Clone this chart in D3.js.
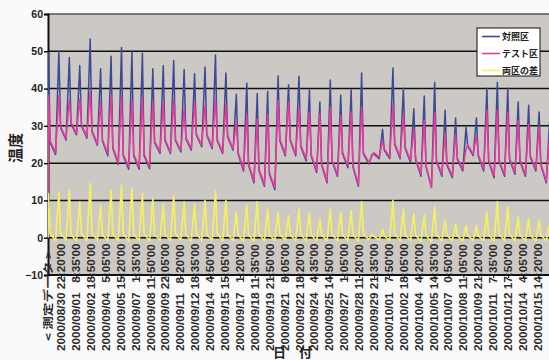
<!DOCTYPE html>
<html>
<head>
<meta charset="utf-8">
<script src="https://cdn.jsdelivr.net/npm/d3@7"></script>
<style>
  body { margin: 0; background: #fafafa; }
  svg { display: block; }
</style>
</head>
<body>
<div id="chart"></div>
<script>
// daily readings, day 0 = 2000/08/29 (dawn ~08:30, peak ~16:00, dusk ~20:00)
const bluePeak = [49.6, 50.1, 48.3, 46.2, 53.3, 45.3, 48.7, 51.0, 49.8, 49.5,
                  45.3, 46.2, 47.5, 45.1, 44.0, 45.8, 49.0, 44.2, 38.5, 41.4,
                  38.7, 39.2, 43.4, 41.0, 43.3, 39.6, 36.4, 42.3, 38.3, 39.6,
                  44.2, 22.3, 29.1, 45.5, 40.1, 34.6, 38.0, 41.7, 34.2, 32.1,
                  29.6, 32.1, 40.1, 41.6, 40.1, 36.4, 35.5, 33.7, 31.0];
const blueDawn = [0, 22.3, 26.2, 27.6, 26.7, 24.8, 22.0, 19.7, 18.4, 18.4,
                  18.5, 22.6, 22.6, 23.0, 23.5, 24.4, 23.9, 22.6, 23.5, 17.9,
                  14.7, 13.8, 12.9, 22.0, 22.0, 20.6, 17.5, 14.7, 16.5, 18.8,
                  13.8, 19.8, 21.2, 21.2, 21.2, 20.2, 16.5, 13.5, 16.5, 16.1,
                  17.9, 22.0, 17.9, 16.1, 16.5, 17.0, 16.5, 17.9, 14.7];
const blueDusk = [25.5, 29.5, 30.5, 30.0, 28.5, 26.0, 24.0, 22.0, 22.0, 22.0,
                  25.5, 26.0, 26.0, 26.5, 27.5, 27.5, 26.0, 27.0, 22.5, 19.5,
                  18.0, 17.0, 26.0, 26.0, 24.5, 22.0, 19.5, 20.5, 22.5, 19.0,
                  22.5, 22.5, 23.5, 25.0, 24.0, 21.0, 19.0, 20.5, 19.5, 21.0,
                  24.5, 22.0, 20.5, 20.5, 21.0, 20.5, 21.5, 19.5, 18.5];

const pinkPeak = [38.3, 38.0, 36.9, 37.3, 39.2, 36.4, 38.3, 37.8, 36.9, 37.8,
                  36.4, 36.4, 37.0, 34.6, 36.4, 35.5, 37.3, 35.5, 31.0, 33.2,
                  31.9, 33.2, 36.9, 36.4, 35.0, 33.7, 33.2, 35.0, 32.8, 33.7,
                  35.0, 21.9, 26.0, 35.5, 32.8, 29.1, 31.5, 33.7, 27.8, 27.8,
                  23.7, 27.3, 34.2, 34.2, 33.7, 31.4, 30.5, 29.6, 27.0];
const pinkDawn = [0, 22.8, 26.6, 28.0, 27.1, 25.2, 22.5, 20.2, 19.0, 19.0,
                  19.0, 23.0, 23.0, 23.4, 23.9, 24.8, 24.3, 23.0, 23.9, 18.4,
                  15.3, 14.3, 13.5, 22.5, 22.4, 21.1, 18.0, 15.2, 17.0, 19.3,
                  14.3, 20.2, 21.6, 21.6, 21.6, 20.7, 17.0, 13.7, 17.0, 16.6,
                  18.4, 22.4, 18.4, 16.6, 17.0, 17.5, 17.0, 18.4, 15.2];
const pinkDusk = [25.9, 29.9, 30.9, 30.4, 28.9, 26.4, 24.4, 22.4, 22.4, 22.4,
                  25.9, 26.4, 26.4, 26.9, 27.9, 27.9, 26.4, 27.4, 22.9, 19.9,
                  18.4, 17.4, 26.4, 26.4, 24.9, 22.4, 19.9, 20.9, 22.9, 19.4,
                  22.9, 22.8, 23.9, 25.4, 24.4, 21.4, 19.4, 20.9, 19.9, 21.4,
                  24.9, 22.4, 20.9, 20.9, 21.4, 20.9, 21.9, 19.9, 18.9];

const diffPeak = [11.8, 12.3, 12.8, 9.6, 14.6, 8.7, 12.8, 14.1, 13.2, 11.8,
                  10.5, 9.1, 11.4, 9.6, 9.1, 10.0, 12.5, 10.0, 6.8, 8.8,
                  9.6, 7.7, 6.8, 5.9, 7.7, 6.8, 5.0, 7.7, 6.8, 7.3,
                  9.6, 0.9, 2.3, 10.0, 7.7, 6.4, 6.1, 8.2, 4.6, 3.6,
                  3.2, 3.2, 6.8, 9.7, 8.2, 5.5, 5.0, 4.6, 3.6];
const diffDawn = [0, -0.7, -0.6, -0.8, -0.7, -0.6, -0.8, -0.7, -0.9, -0.7,
                  -0.8, -0.6, -0.7, -0.6, -0.8, -0.7, -0.6, -0.8, -0.7, -0.8,
                  -0.9, -0.8, -0.7, -0.6, -0.7, -0.8, -0.9, -0.7, -0.8, -0.7,
                  -0.9, -0.5, -0.6, -0.7, -0.8, -0.7, -0.9, -1.1, -0.8, -0.7,
                  -0.8, -0.6, -0.7, -0.8, -0.7, -0.8, -0.7, -0.8, -0.7];
const diffDusk = [1.0, 1.2, 0.8, 1.0, 1.2, 0.8, 1.0, 1.1, 0.9, 1.0,
                  0.8, 1.0, 1.1, 0.9, 1.0, 0.8, 1.2, 0.9, 0.7, 0.8,
                  1.0, 0.8, 0.9, 0.7, 0.9, 0.8, 0.7, 0.9, 0.8, 0.9,
                  1.0, 0.4, 0.5, 1.0, 0.8, 0.7, 0.6, 0.8, 0.6, 0.5,
                  0.5, 0.5, 0.8, 1.0, 0.9, 0.7, 0.6, 0.6, 0.5];

const tickLabels = ["2000/08/30 22:20'00", "2000/09/01 8:35'00", "2000/09/02 18:50'00",
  "2000/09/04 5:05'00", "2000/09/05 15:20'00", "2000/09/07 1:35'00", "2000/09/08 11:50'00",
  "2000/09/09 22:05'00", "2000/09/11 8:20'00", "2000/09/12 18:35'00", "2000/09/14 4:50'00",
  "2000/09/15 15:05'00", "2000/09/17 1:20'00", "2000/09/18 11:35'00", "2000/09/19 21:50'00",
  "2000/09/21 8:05'00", "2000/09/22 18:20'00", "2000/09/24 4:35'00", "2000/09/25 14:50'00",
  "2000/09/27 1:05'00", "2000/09/28 11:20'00", "2000/09/29 21:35'00", "2000/10/01 7:50'00",
  "2000/10/02 18:05'00", "2000/10/04 4:20'00", "2000/10/05 14:35'00", "2000/10/07 0:50'00",
  "2000/10/08 11:05'00", "2000/10/09 21:20'00", "2000/10/11 7:35'00", "2000/10/12 17:50'00",
  "2000/10/14 4:05'00", "2000/10/15 14:20'00"];
const yTicks = [-10, 0, 10, 20, 30, 40, 50, 60];

const seriesNames = ["対照区", "テスト区", "両区の差"];
const seriesColors = ["#3d4896", "#ec3a9c", "#f4ef62"];

const W = 549, H = 360;
const plotL = 48, plotR = 549, plotT = 14, plotB = 275;

const t0 = new Date(2000, 7, 29, 15, 0);
const t1 = new Date(2000, 9, 16, 14, 45);
const day0 = new Date(2000, 7, 29);

const x = d3.scaleTime().domain([t0, t1]).range([plotL, plotR]);
const y = d3.scaleLinear().domain([-10, 60]).range([plotB, plotT]);

const svg = d3.select("#chart").append("svg")
    .attr("width", W)
    .attr("height", H);

svg.append("defs").append("clipPath")
    .attr("id", "plotclip")
    .append("rect")
    .attr("x", plotL).attr("y", plotT)
    .attr("width", plotR - plotL).attr("height", plotB - plotT);

// plot background
svg.append("rect")
    .attr("x", plotL).attr("y", plotT)
    .attr("width", plotR - plotL).attr("height", plotB - plotT)
    .attr("fill", "#ccc9c4");

// gridlines
svg.append("g").selectAll("line")
    .data(yTicks.filter(d => d > -10))
    .join("line")
    .attr("x1", plotL).attr("x2", plotR)
    .attr("y1", d => y(d)).attr("y2", d => y(d))
    .attr("stroke", "#111")
    .attr("stroke-width", d => d === 60 ? 1.2 : 1.5);

// y axis
const yAxis = svg.append("g")
    .attr("transform", `translate(${plotL},0)`)
    .call(d3.axisLeft(y).tickValues(yTicks).tickSize(4).tickFormat(d3.format("d")));
yAxis.select(".domain").attr("stroke", "#111").attr("stroke-width", 2);
yAxis.selectAll(".tick line").attr("stroke", "#111").attr("stroke-width", 1.5);
yAxis.selectAll(".tick text")
    .attr("x", -5)
    .attr("font-family", "'Liberation Sans', Arial, sans-serif")
    .attr("font-size", 10.5)
    .attr("font-weight", "bold")
    .attr("fill", "#222");

// bottom axis line
svg.append("line")
    .attr("x1", plotL).attr("x2", plotR)
    .attr("y1", plotB).attr("y2", plotB)
    .attr("stroke", "#111").attr("stroke-width", 2);

// build daily series
function buildSeries(dawn, peak, dusk) {
    const pts = [];
    dawn.forEach((v, i) => {
        const day = d3.timeDay.offset(day0, i);
        const tDawn = d3.timeMinute.offset(day, 8 * 60 + 30);
        pts.push({ t: tDawn < t0 ? t0 : tDawn, v: dawn[i] });
        pts.push({ t: d3.timeHour.offset(day, 16), v: peak[i] });
        pts.push({ t: d3.timeHour.offset(day, 20), v: dusk[i] });
    });
    return pts;
}

const series = [
    buildSeries(blueDawn, bluePeak, blueDusk),
    buildSeries(pinkDawn, pinkPeak, pinkDusk),
    buildSeries(diffDawn, diffPeak, diffDusk)
];

const line = d3.line()
    .x(d => x(d.t))
    .y(d => y(d.v));

svg.append("g")
    .attr("clip-path", "url(#plotclip)")
    .selectAll("path")
    .data(series)
    .join("path")
    .attr("d", line)
    .attr("fill", "none")
    .attr("stroke", (d, i) => seriesColors[i])
    .attr("stroke-width", (d, i) => i === 2 ? 1.7 : 1.5)
    .attr("stroke-linejoin", "round");

// x tick labels (rotated, overlapping the lower band of the plot)
const parseTick = d3.timeParse("%Y/%m/%d %H:%M'%S");
const xTicks = tickLabels.map(s => ({ t: parseTick(s), s: s }));

svg.append("g").selectAll("line")
    .data(xTicks)
    .join("line")
    .attr("x1", d => x(d.t)).attr("x2", d => x(d.t))
    .attr("y1", plotB).attr("y2", plotB + 3)
    .attr("stroke", "#111");

svg.append("g").selectAll("text")
    .data(xTicks)
    .join("text")
    .attr("transform", d => `translate(${x(d.t)},351) rotate(-90) scale(1.17,1)`)
    .attr("dy", "0.35em")
    .attr("font-family", "'Liberation Sans', Arial, sans-serif")
    .attr("font-size", 10)
    .attr("font-weight", "bold")
    .attr("fill", "#2a2a2a")
    .text(d => {
        const parts = d.s.split(" ");
        const hh = parts[1].split(":")[0];
        return parts[0] + " " + (hh.length < 2 ? "\u2007" : "") + parts[1];
    });

svg.append("text")
    .attr("transform", "translate(48,341) rotate(-90) scale(1.3,1)")
    .attr("dy", "0.35em")
    .attr("font-family", "'Noto Sans CJK JP', sans-serif")
    .attr("font-size", 10.5)
    .attr("font-weight", "bold")
    .attr("fill", "#2a2a2a")
    .text("< 測定データ >");

// axis titles
svg.append("text")
    .attr("transform", "translate(16,148) rotate(-90)")
    .attr("text-anchor", "middle")
    .attr("dy", "0.35em")
    .attr("font-family", "'Noto Sans CJK JP', sans-serif")
    .attr("font-size", 15)
    .attr("font-weight", "bold")
    .attr("fill", "#222")
    .text("温度");

svg.append("text")
    .attr("x", 295).attr("y", 357)
    .attr("text-anchor", "middle")
    .attr("font-family", "'Noto Sans CJK JP', sans-serif")
    .attr("font-size", 13)
    .attr("font-weight", "bold")
    .attr("letter-spacing", 5)
    .attr("fill", "#222")
    .text("日 付");

// legend
const legend = svg.append("g");
legend.append("rect")
    .attr("x", 477).attr("y", 28)
    .attr("width", 63).attr("height", 48)
    .attr("fill", "#fff")
    .attr("stroke", "#111")
    .attr("stroke-width", 1);
const rows = legend.selectAll("g")
    .data(seriesNames)
    .join("g")
    .attr("transform", (d, i) => `translate(0,${36.5 + i * 17})`);
rows.append("line")
    .attr("x1", 482).attr("x2", 500)
    .attr("stroke", (d, i) => seriesColors[i])
    .attr("stroke-width", 1.6);
rows.append("text")
    .attr("x", 502)
    .attr("dy", "0.35em")
    .attr("font-family", "'Noto Sans CJK JP', sans-serif")
    .attr("font-size", 9)
    .attr("font-weight", "bold")
    .attr("fill", "#222")
    .text(d => d);
</script>
</body>
</html>
